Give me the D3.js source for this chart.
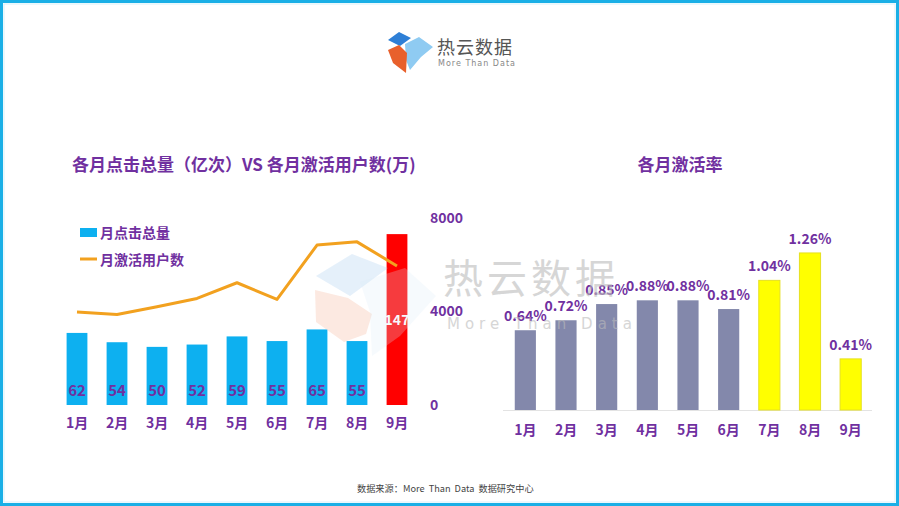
<!DOCTYPE html>
<html><head><meta charset="utf-8">
<script src="https://cdn.jsdelivr.net/npm/d3@7"></script>
<style>
body{margin:0;background:#fff;}
svg{display:block;font-family:"Noto Sans CJK SC","Noto Sans",sans-serif;}
</style></head>
<body>
<svg id="c" width="899" height="506"></svg>
<script>
const months = ['1月','2月','3月','4月','5月','6月','7月','8月','9月'];
const clicks = [62,54,50,52,59,55,65,55,147];
const activeUsers = [3980,3870,4200,4560,5230,4520,6840,6980,5950];
const rates = [0.64,0.72,0.85,0.88,0.88,0.81,1.04,1.26,0.41];
const lineTicks = [0,4000,8000];
const legendLabels = ['月点击总量','月激活用户数'];
const titleLeft = '各月点击总量（亿次）VS 各月激活用户数(万)';
const titleRight = '各月激活率';
const source = '数据来源：More  Than  Data  数据研究中心';

const purple = '#7030A0';
const svg = d3.select('#c');

// frame
svg.append('rect').attr('x',1.5).attr('y',1.5).attr('width',896).attr('height',503)
  .attr('fill','#fff').attr('stroke','#1AAFE6').attr('stroke-width',3);
svg.append('rect').attr('x',4).attr('y',4).attr('width',891).attr('height',498)
  .attr('fill','none').attr('stroke','#d8f1fa').attr('stroke-width',1);

// top logo
const logo = svg.append('g');
logo.append('polygon').attr('points','405,44 419,37 433,47 421,57 410,70 406,60').attr('fill','#8FCBF2');
logo.append('polygon').attr('points','388,40 399,32 411,38 400,46').attr('fill','#2E7FD6');
logo.append('polygon').attr('points','388,50 399,45 407,53 406,73 393,63').attr('fill','#E8602C');
logo.append('text').attr('x',437).attr('y',54).attr('font-size',18).attr('fill','#555')
  .attr('letter-spacing',1).text('热云数据');
logo.append('text').attr('x',438).attr('y',66).attr('font-size',8).attr('fill','#888')
  .attr('letter-spacing',1).attr('font-family','DejaVu Sans').text('More Than Data');

// titles
svg.append('text').attr('x',72).attr('y',171).attr('font-size',17).attr('font-weight','bold')
  .attr('fill',purple).text(titleLeft);
svg.append('text').attr('x',680).attr('y',171).attr('text-anchor','middle').attr('font-size',17)
  .attr('font-weight','bold').attr('fill',purple).text(titleRight);

// ---------- left chart ----------
const xL = d3.scaleBand().domain(months).range([57,417]).paddingInner(0.48).paddingOuter(0.24);
const yBar = d3.scaleLinear().domain([0,160]).range([405,219]);
const yLine = d3.scaleLinear().domain([0,8000]).range([405,218]);

const gL = svg.append('g');
gL.selectAll('rect.bar').data(clicks).join('rect').attr('class','bar')
  .attr('x',(d,i)=>xL(months[i])).attr('width',xL.bandwidth())
  .attr('y',d=>yBar(d)).attr('height',d=>yBar(0)-yBar(d))
  .attr('fill',(d,i)=> i===8 ? '#FF0000' : '#0DB0F0');

gL.selectAll('text.val').data(clicks).join('text').attr('class','val')
  .attr('x',(d,i)=>xL(months[i])+xL.bandwidth()/2)
  .attr('y',(d,i)=> i===8 ? (yBar(d)+yBar(0))/2+5 : yBar(0)-9)
  .attr('text-anchor','middle').attr('font-size',(d,i)=>i===8?14:15).attr('font-weight','bold')
  .attr('fill',(d,i)=> i===8 ? '#fff' : purple).text(d=>d);

const line = d3.line().x((d,i)=>xL(months[i])+xL.bandwidth()/2).y(d=>yLine(d));
gL.append('path').datum(activeUsers).attr('d',line).attr('fill','none')
  .attr('stroke','#F2A11F').attr('stroke-width',3).attr('stroke-linejoin','round');

// right axis (line)
const axR = d3.axisRight(yLine).tickValues(lineTicks).tickFormat(d3.format('d')).tickSize(0).tickPadding(0);
const gAx = svg.append('g').attr('transform','translate(430,0)').call(axR);
gAx.select('.domain').remove();
gAx.selectAll('text').attr('font-size',14).attr('font-weight','bold').attr('fill',purple)
  .attr('font-family','"Noto Sans CJK SC",sans-serif');

// bottom axis left
const axBL = d3.axisBottom(xL).tickSize(0).tickPadding(0);
const gBL = svg.append('g').attr('transform','translate(0,418)').call(axBL);
gBL.select('.domain').remove();
gBL.selectAll('text').attr('font-size',14).attr('font-weight','bold').attr('fill',purple)
  .attr('font-family','"Noto Sans CJK SC",sans-serif');

// legend
svg.append('rect').attr('x',80).attr('y',228).attr('width',17).attr('height',9).attr('fill','#0DB0F0');
svg.append('line').attr('x1',80).attr('x2',97).attr('y1',259).attr('y2',259)
  .attr('stroke','#F2A11F').attr('stroke-width',3);
svg.selectAll('text.leg').data(legendLabels).join('text').attr('class','leg')
  .attr('x',100).attr('y',(d,i)=>238+i*27).attr('font-size',14).attr('font-weight','bold')
  .attr('fill',purple).text(d=>d);

// ---------- right chart ----------
const xR = d3.scaleBand().domain(months).range([505,871]).paddingInner(0.48).paddingOuter(0.24);
const yR = d3.scaleLinear().domain([0,1.4]).range([410,235.5]);

svg.append('line').attr('x1',503).attr('x2',872).attr('y1',410.5).attr('y2',410.5)
  .attr('stroke','#e3e3e3').attr('stroke-width',1);

const gR = svg.append('g');
gR.selectAll('rect').data(rates).join('rect')
  .attr('x',(d,i)=>xR(months[i])).attr('width',xR.bandwidth())
  .attr('y',d=>yR(d)).attr('height',d=>yR(0)-yR(d))
  .attr('fill',(d,i)=> i>=6 ? '#FFFF00' : '#8388AB')
  .attr('stroke',(d,i)=> i>=6 ? '#E6E020' : 'none').attr('stroke-width',1);
gR.selectAll('text').data(rates).join('text')
  .attr('x',(d,i)=>xR(months[i])+xR.bandwidth()/2).attr('y',d=>yR(d)-9)
  .attr('text-anchor','middle').attr('font-size',14).attr('font-weight','bold')
  .attr('fill',purple).text(d=>d.toFixed(2)+'%');

const axBR = d3.axisBottom(xR).tickSize(0).tickPadding(0);
const gBR = svg.append('g').attr('transform','translate(0,425)').call(axBR);
gBR.select('.domain').remove();
gBR.selectAll('text').attr('font-size',14).attr('font-weight','bold').attr('fill',purple)
  .attr('font-family','"Noto Sans CJK SC",sans-serif');

// ---------- watermark ----------
const wm = svg.append('g').attr('pointer-events','none');
wm.append('polygon').attr('points','316,276 352,254 388,268 350,296').attr('fill','#a9cdee').attr('opacity',0.3);
wm.append('polygon').attr('points','315,290 348,298 372,314 366,334 344,342 316,322').attr('fill','#f7c0a8').attr('opacity',0.35);
wm.append('polygon').attr('points','360,282 405,268 436,296 400,336 372,356 370,312').attr('fill','#dcecf9').attr('opacity',0.25);
wm.append('text').attr('x',443).attr('y',293).attr('font-size',40).attr('fill','#bbb').attr('opacity',0.6)
  .attr('letter-spacing',4).attr('font-family','"Noto Sans CJK SC",sans-serif').text('热云数据');
wm.append('text').attr('x',447).attr('y',329).attr('font-size',15).attr('fill','#bbb').attr('opacity',0.6)
  .attr('letter-spacing',5).attr('font-family','DejaVu Sans').text('More Than Data');

// footer
svg.append('text').attr('x',357).attr('y',492).attr('font-size',9.2).attr('fill','#444')
  .style('white-space','pre').text(source);
</script>
</body></html>
